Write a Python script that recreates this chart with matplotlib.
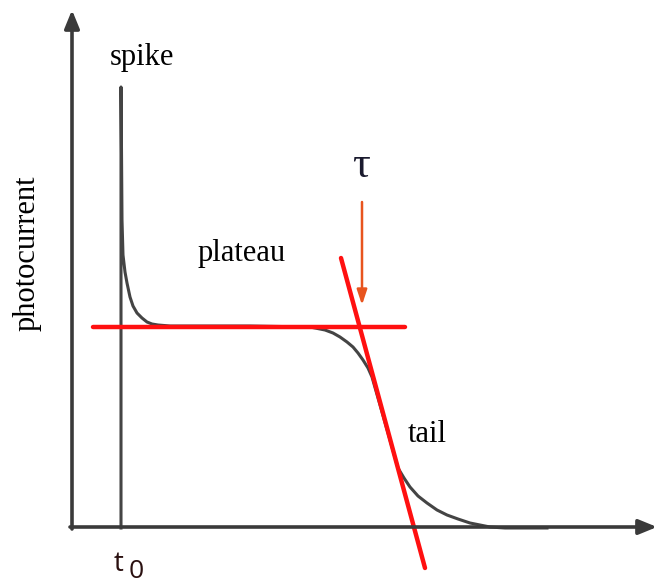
import matplotlib.pyplot as plt

# photocurrent transient, traced in canvas units (x right, y down)
trace_x = [121, 121, 121.5, 122, 123, 125, 127, 130, 133, 137, 142, 147, 152, 158, 170,
           250, 310, 325, 333, 340, 347, 353, 358, 363, 368, 372, 380, 390, 398,
           404, 410, 418, 427, 437, 447, 458, 470, 480, 490, 505, 547]
trace_y = [528, 87, 150, 220, 255, 272, 283, 297, 306, 313, 318, 322, 324, 325, 326,
           326, 327, 330, 333, 337, 342, 347, 353, 360, 368, 377, 405, 440, 468,
           478, 487, 496, 503, 510, 515, 519, 523, 525, 527, 528, 528]

# plateau level and tangent through the tail
plateau_x = [93, 405]
plateau_y = [327, 327]
tangent_x = [341, 425]
tangent_y = [258, 568]

# arrow marking the transit time
tau_x = 362
tau_y = [202, 305]

fig = plt.figure(figsize=(6.62, 5.86), dpi=100)
ax = fig.add_axes([0, 0, 1, 1])
ax.set_xlim(0, 662)
ax.set_ylim(586, 0)
ax.axis('off')

# axes with arrow heads
axis_col = '#3a3a3a'
ax.annotate('', xy=(72, 10), xytext=(72, 529),
            arrowprops=dict(arrowstyle='-|>,head_length=1.1,head_width=0.45',
                            color=axis_col, lw=2.6, shrinkA=0, shrinkB=0))
ax.annotate('', xy=(657, 527), xytext=(70, 527),
            arrowprops=dict(arrowstyle='-|>,head_length=1.1,head_width=0.45',
                            color=axis_col, lw=2.6, shrinkA=0, shrinkB=0))

ax.plot(trace_x, trace_y, color='#444444', lw=2.2, solid_joinstyle='round')
ax.plot(plateau_x, plateau_y, color='#ff1010', lw=3.2, solid_capstyle='round')
ax.plot(tangent_x, tangent_y, color='#ff1010', lw=3.2, solid_capstyle='round')

ax.annotate('', xy=(tau_x, tau_y[1]), xytext=(tau_x, tau_y[0]),
            arrowprops=dict(arrowstyle='-|>,head_length=0.9,head_width=0.3',
                            color='#e8541e', lw=1.8, shrinkA=0, shrinkB=0))

serif = 'Liberation Serif'
ax.text(142, 58, 'spike', family=serif, fontsize=22, ha='center', va='center')
ax.text(242, 253, 'plateau', family=serif, fontsize=22, ha='center', va='center')
ax.text(427, 434, 'tail', family=serif, fontsize=22, ha='center', va='center')
ax.text(361, 166, 'τ', family=serif, fontsize=32, ha='center', va='center', color='#1a1a2e')
ax.text(27, 253, 'photocurrent', family=serif, fontsize=22, rotation=90,
        ha='center', va='center')
ax.text(119, 564, 't', family='Open Sans', fontsize=20, ha='center', va='center',
        color='#2a1010')
ax.text(136, 571, '0', family='Open Sans', fontsize=19, ha='center', va='center',
        color='#2a1010')

fig.savefig('out.png', dpi=100)
